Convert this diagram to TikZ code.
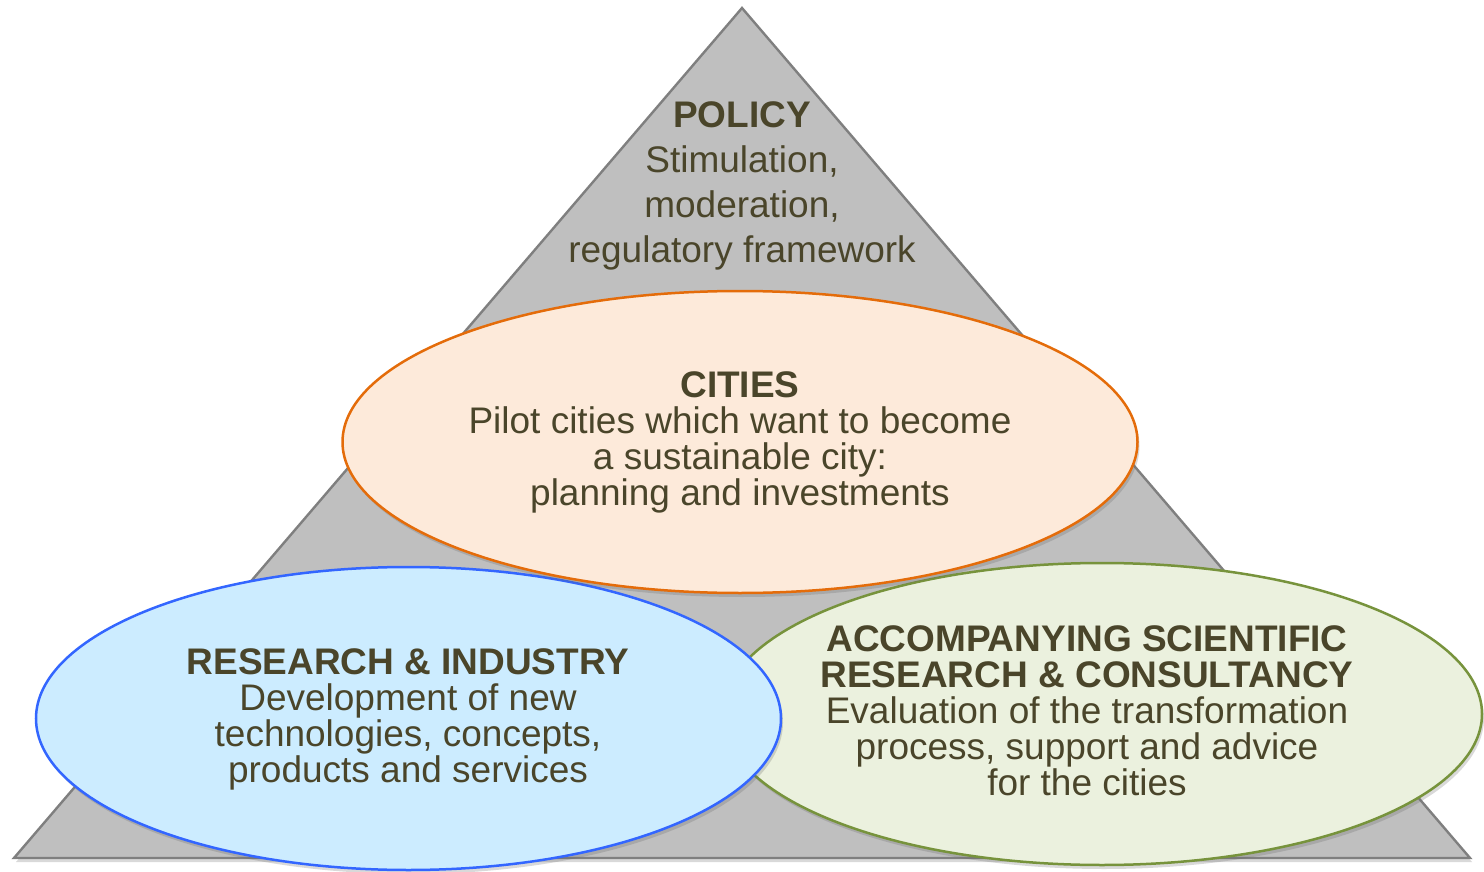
\documentclass[tikz,border=0pt]{standalone}
\usepackage{fontspec}
\setmainfont{Liberation Sans}
\usetikzlibrary{shapes.geometric,shadows}
\definecolor{txt}{HTML}{4A452A}
\definecolor{trifill}{HTML}{BFBFBF}
\definecolor{triline}{HTML}{7F7F7F}
\definecolor{orline}{HTML}{E46C0A}
\definecolor{orfill}{HTML}{FDEADA}
\definecolor{blline}{HTML}{3366FF}
\definecolor{blfill}{HTML}{CCECFF}
\definecolor{grline}{HTML}{77933C}
\definecolor{grfill}{HTML}{EBF1DE}
\tikzset{
  softshadow/.style={drop shadow={shadow xshift=2pt, shadow yshift=-4pt, opacity=0.25, fill=black!60}},
  tri/.style={fill=trifill, draw=triline, line width=2.4pt, line join=miter, softshadow},
  oval/.style={ellipse, inner sep=0pt, line width=2.5pt, softshadow},
  label/.style={text=txt, align=center, anchor=base, inner sep=0pt},
  bodyfont/.style={font=\fontsize{37}{36}\selectfont},
  topfont/.style={font=\fontsize{37}{45}\selectfont}
}
\begin{document}
\begin{tikzpicture}[x=1pt,y=-1pt]
\useasboundingbox (0,0) rectangle (1484,872);
\coordinate (apex) at (742,8);
\coordinate (bl) at (14,858);
\coordinate (br) at (1470,858);
\draw[tri] (apex) -- (br) -- (bl) -- cycle;
\node[oval, draw=grline, fill=grfill, minimum width=760, minimum height=302] (acc) at (1102,714) {};
\node[oval, draw=blline, fill=blfill, minimum width=745, minimum height=303] (res) at (408.5,718.5) {};
\node[oval, draw=orline, fill=orfill, minimum width=795, minimum height=302] (cit) at (740,442) {};
\node[label, topfont] (policytxt) at (742,262) {\textbf{POLICY}\\Stimulation,\\moderation,\\regulatory framework};
\node[label, bodyfont] (citiestxt) at (740,505) {\textbf{CITIES}\\Pilot cities which want to become\\a sustainable city:\\planning and investments};
\node[label, bodyfont] (restxt) at (408,782) {\textbf{RESEARCH \& INDUSTRY}\\Development of new\\technologies, concepts,\\products and services};
\node[label, bodyfont] (acctxt) at (1087,795) {\textbf{ACCOMPANYING SCIENTIFIC}\\\textbf{RESEARCH \& CONSULTANCY}\\Evaluation of the transformation\\process, support and advice\\for the cities};
\end{tikzpicture}
\end{document}
